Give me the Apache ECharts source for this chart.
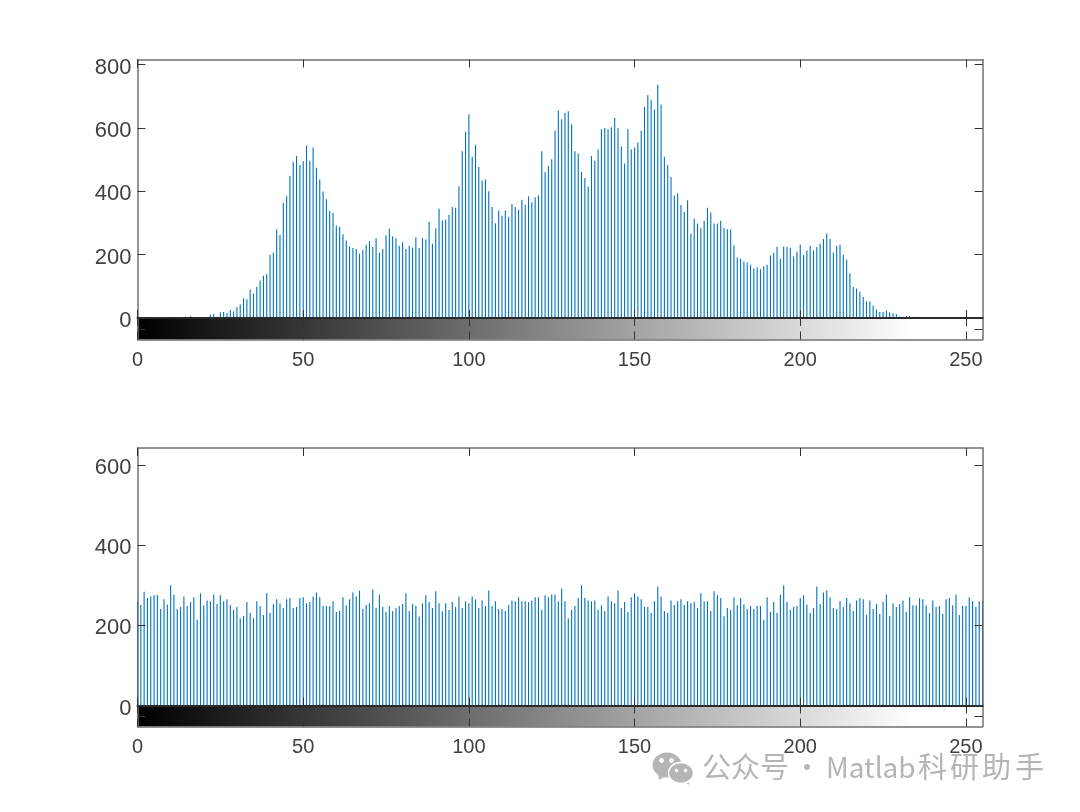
<!DOCTYPE html>
<html>
<head>
<meta charset="utf-8">
<title>imhist</title>
<style>
  html, body { margin: 0; padding: 0; background: #fff; }
  #main { width: 1080px; height: 812px; }
</style>
<script src="https://cdn.jsdelivr.net/npm/echarts@6/dist/echarts.min.js"></script>
</head>
<body>
<div id="main"></div>
<script>
// histogram of the original image, grey levels 0..255
const originalCounts = [
  0,0,0,0,0,0,0,0,0,0,0,0,0,0,0,0,6,0,0,0,3,3,10,13,4,18,19,16,25,21,34,43,
  62,59,90,77,99,118,133,139,200,206,280,262,363,384,449,493,511,483,495,544,496,538,474,437,399,375,338,332,292,288,264,245,
  226,221,218,203,215,231,243,224,252,206,218,261,282,258,252,228,239,218,228,222,255,221,252,248,304,234,283,345,308,310,326,350,
  348,416,526,588,643,509,547,477,434,437,400,350,299,339,323,339,320,360,350,341,373,357,384,365,381,387,526,461,480,501,592,655,
  627,648,653,612,526,519,461,442,415,511,496,532,596,600,596,602,631,599,541,488,597,532,538,554,591,666,704,688,658,736,674,509,
  483,445,387,394,357,335,372,267,314,298,283,307,348,333,298,298,307,285,280,280,230,191,187,178,175,168,156,160,154,163,168,197,
  206,225,187,225,225,222,194,209,231,199,213,227,213,224,234,249,267,249,206,227,231,200,184,141,98,93,83,66,52,52,39,27,
  19,19,24,18,15,13,5,4,6,6,4,4,3,1,1,0,0,0,0,0,0,0,0,0,0,0,0,0,0,0,0,0
];
// histogram after equalisation
const equalizedCounts = [
  259,251,284,268,272,275,275,241,265,252,300,277,241,246,272,248,258,270,214,280,250,262,260,277,253,275,260,265,251,238,246,218,
  223,258,231,218,260,248,226,280,231,253,265,255,243,265,268,243,246,268,270,255,258,272,282,270,248,248,248,260,233,236,270,250,
  265,282,272,287,241,251,255,290,243,277,246,233,248,236,243,248,253,280,236,253,248,222,255,275,258,243,285,255,235,255,238,258,
  246,272,243,260,255,272,265,243,262,248,287,248,260,241,241,236,251,262,260,270,260,260,258,262,270,270,238,275,270,277,277,260,
  292,260,218,238,248,268,300,268,262,260,262,238,250,236,272,260,255,287,243,258,233,270,280,272,265,246,246,231,260,297,272,236,
  231,262,251,260,265,251,260,255,258,243,280,260,260,236,285,275,268,223,243,238,270,250,268,252,241,248,241,248,248,214,270,233,
  258,231,277,300,258,238,246,248,268,275,252,231,243,297,253,282,287,270,243,241,260,246,268,255,236,262,268,265,226,262,241,253,
  228,258,277,223,255,246,253,262,233,270,250,250,268,265,250,231,262,246,248,228,265,268,250,277,226,248,248,270,260,246,260,262
];
const xTicks = [0, 50, 100, 150, 200, 250];
const topYTicks = [0, 200, 400, 600, 800];
const bottomYTicks = [0, 200, 400, 600];
const stripStops = [
  { offset: 0, color: '#000000' },
  { offset: 0.92, color: '#ffffff' },
  { offset: 1, color: '#ffffff' }
];

const frameColor = '#707070';
const tickColor = '#333333';
const labelColor = '#404040';
const labelFont = 'Liberation Sans';
const stemBlue = '#0072BD';

const grids = [];
const xAxes = [];
const yAxes = [];
const series = [];

function axisBase(extra) {
  return Object.assign({
    z: 5,
    axisLine: { show: true, onZero: false, lineStyle: { color: frameColor, width: 1.5 } },
    splitLine: { show: false }
  }, extra);
}

function xAxisPair(grid, showLabels, lineColor) {
  const tick = { show: true, inside: true, length: 8, customValues: xTicks, lineStyle: { color: tickColor, width: 1 } };
  xAxes.push(axisBase({
    type: 'value', gridIndex: grid, position: 'bottom', min: 0, max: 255,
    axisTick: tick,
    axisLabel: showLabels
      ? { show: true, customValues: xTicks, margin: 11, fontSize: 20, color: labelColor, fontFamily: labelFont }
      : { show: false }
  }));
  const top = axisBase({
    type: 'value', gridIndex: grid, position: 'top', min: 0, max: 255,
    axisTick: tick, axisLabel: { show: false }
  });
  if (lineColor) top.axisLine.lineStyle = { color: lineColor, width: 2 };
  xAxes.push(top);
}

function yAxisPair(grid, min, max, ticks, showLabels) {
  const tick = { show: true, inside: true, length: 8, customValues: ticks, lineStyle: { color: tickColor, width: 1 } };
  yAxes.push(axisBase({
    type: 'value', gridIndex: grid, position: 'left', min: min, max: max,
    axisTick: tick,
    axisLabel: showLabels
      ? {
          show: true, customValues: ticks, margin: 6,
          formatter: (v) => '{n|' + v + '}',
          // rich padding nudges the digits down to where the original sits
          rich: { n: { fontSize: 22, color: labelColor, fontFamily: labelFont, padding: [6, 0, 0, 0] } }
        }
      : { show: false }
  }));
  yAxes.push(axisBase({
    type: 'value', gridIndex: grid, position: 'right', min: min, max: max,
    axisTick: tick, axisLabel: { show: false }
  }));
}

function addPanel(counts, top, zeroY, bottom, yMax, yTicks) {
  const histGrid = grids.length;
  grids.push({ left: 137.5, width: 845, top: top, height: zeroY - top });
  grids.push({ left: 137.5, width: 845, top: zeroY, height: bottom - zeroY });
  xAxisPair(histGrid, false);
  yAxisPair(histGrid, 0, yMax, yTicks, true);
  xAxisPair(histGrid + 1, true, '#2a2a2a');
  yAxisPair(histGrid + 1, 0, 1, [0.5], false);

  const axisOffset = histGrid * 2;
  // stems stay unsnapped so that they antialias like the original plot
  series.push({
    type: 'custom',
    xAxisIndex: axisOffset,
    yAxisIndex: axisOffset,
    silent: true,
    animation: false,
    data: counts.map((v, i) => [i, v]),
    renderItem: function (params, api) {
      const a = api.coord([api.value(0), api.value(1)]);
      const b = api.coord([api.value(0), 0]);
      return {
        type: 'rect',
        shape: { x: a[0] - 0.55, y: a[1], width: 1.1, height: b[1] - a[1] },
        style: { fill: stemBlue }
      };
    }
  });
  series.push({
    type: 'custom',
    xAxisIndex: axisOffset + 2,
    yAxisIndex: axisOffset + 2,
    silent: true,
    animation: false,
    data: [[0, 1, 255, 0]],
    renderItem: function (params, api) {
      const a = api.coord([api.value(0), api.value(1)]);
      const b = api.coord([api.value(2), api.value(3)]);
      return {
        type: 'rect',
        shape: { x: a[0], y: a[1], width: b[0] - a[0], height: b[1] - a[1] },
        style: { fill: { type: 'linear', x: 0, y: 0, x2: 1, y2: 0, colorStops: stripStops } }
      };
    }
  });
}

addPanel(originalCounts, 59.5, 318, 339.5, 816, topYTicks);
addPanel(equalizedCounts, 448, 705.5, 726.5, 642.5, bottomYTicks);

// watermark in the lower right corner
const markGrey = '#b5b5b5';
const markFont = '"Noto Sans CJK SC", "Noto Sans"';
function markText(x, text, size) {
  return {
    type: 'text', left: x, top: 772 - size * 0.66, z: 20, silent: true,
    style: { text: text, fontSize: size, fontFamily: markFont, fill: markGrey }
  };
}
function markDot(cx, cy, r, fill, stroke) {
  return {
    type: 'ellipse', z: 20, silent: true,
    shape: { cx: cx, cy: cy, rx: r[0], ry: r[1] },
    style: { fill: fill, stroke: stroke || null, lineWidth: stroke ? 1.5 : 0 }
  };
}
const watermark = [
  { type: 'polygon', z: 20, silent: true, shape: { points: [[658, 772], [659, 780], [666, 776]] }, style: { fill: markGrey } },
  markDot(667, 765, [14.5, 12.5], markGrey),
  markDot(661.5, 760.5, [2.4, 2.4], '#fff'),
  markDot(671.5, 760.5, [2.4, 2.4], '#fff'),
  { type: 'polygon', z: 20, silent: true, shape: { points: [[684, 781], [689, 785], [688, 779]] }, style: { fill: markGrey } },
  markDot(681, 773, [12.5, 10.5], markGrey, '#fff'),
  markDot(676.5, 770.5, [1.7, 1.7], '#fff'),
  markDot(685.5, 770.5, [1.7, 1.7], '#fff'),
  markText(702, '公众号', 29),
  markText(793, '·', 28),
  markText(826, 'Matlab', 28),
  markText(918, '科', 29),
  markText(950, '研', 29),
  markText(982, '助', 29),
  markText(1015, '手', 29)
];

const chart = echarts.init(document.getElementById('main'), null, { renderer: 'canvas' });
chart.setOption({
  animation: false,
  backgroundColor: '#ffffff',
  grid: grids,
  xAxis: xAxes,
  yAxis: yAxes,
  series: series,
  graphic: watermark
});
</script>
</body>
</html>
